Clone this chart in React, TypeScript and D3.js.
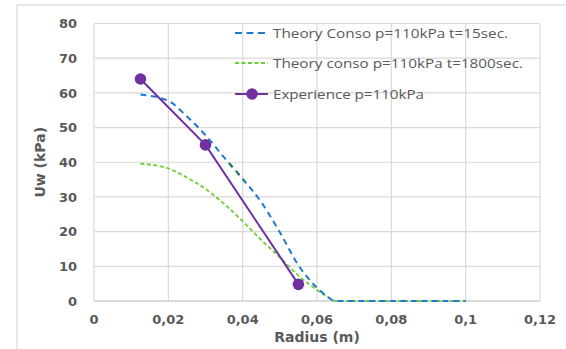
import React from "react";
import * as d3 from "d3";

const xTicks = [0, 0.02, 0.04, 0.06, 0.08, 0.1, 0.12];
const yTicks = [0, 10, 20, 30, 40, 50, 60, 70, 80];

const theory15X = [0.0125, 0.02, 0.025, 0.03, 0.035, 0.04, 0.045, 0.05, 0.055, 0.06, 0.0625, 0.065, 0.08, 0.1];
const theory15Y = [59.5, 57.7, 53.2, 47.8, 41.4, 35.2, 28.5, 19.8, 10.3, 3.8, 1.5, 0, 0, 0];

const theory1800X = [0.0125, 0.02, 0.025, 0.03, 0.035, 0.04, 0.045, 0.05, 0.055, 0.06, 0.0625, 0.065, 0.08, 0.1];
const theory1800Y = [39.6, 38.2, 35.6, 32.3, 28.0, 23.0, 17.6, 12.6, 7.3, 3.2, 1.4, 0, 0, 0];

const overlayX = [0.0355, 0.038, 0.0405];
const overlayY = [40.8, 37.7, 34.6];

const expX = [0.0125, 0.03, 0.055];
const expY = [64, 45, 4.8];

const legendLabels = [
  "Theory Conso p=110kPa t=15sec.",
  "Theory conso p=110kPa t=1800sec.",
  "Experience p=110kPa",
];

const BLUE = "#1f78d1";
const GREEN = "#6ccf3a";
const PURPLE = "#7030a0";
const DARKGREEN = "#2f7d32";
const TEXT = "#595959";
const GRID = "#d9d9d9";

export default function App() {
  const x = d3.scaleLinear().domain([0, 0.12]).range([94, 540]);
  const y = d3.scaleLinear().domain([0, 80]).range([301, 23.5]);

  const zip = (xs: number[], ys: number[]) => xs.map((v, i) => [v, ys[i]] as [number, number]);
  const smooth = d3
    .line<[number, number]>()
    .x((d) => x(d[0]))
    .y((d) => y(d[1]))
    .curve(d3.curveMonotoneX);
  const straight = d3
    .line<[number, number]>()
    .x((d) => x(d[0]))
    .y((d) => y(d[1]));

  const fmt = (v: number) => String(v).replace(".", ",");

  const legendY = [33, 63, 94];

  return (
    <svg
      width={566}
      height={349}
      style={{ position: "absolute", left: 0, top: 0, background: "#fff" }}
    >
      <rect x={17} y={5} width={600} height={400} fill="#fff" stroke={GRID} strokeWidth={1.2} />
      {/* gridlines */}
      {yTicks.map((t) => (
        <line key={"gy" + t} x1={x(0)} x2={x(0.12)} y1={y(t)} y2={y(t)} stroke={GRID} strokeWidth={1.2} />
      ))}
      {xTicks.map((t) => (
        <line key={"gx" + t} x1={x(t)} x2={x(t)} y1={y(0)} y2={y(80)} stroke={GRID} strokeWidth={1.2} />
      ))}
      <line x1={x(0)} x2={x(0.12)} y1={y(0)} y2={y(0)} stroke="#c8c8c8" strokeWidth={1.2} />
      {/* tick labels */}
      {yTicks.map((t) => (
        <text
          key={"ty" + t}
          x={77}
          y={y(t)}
          dy="0.36em"
          textAnchor="end"
          fontFamily="DejaVu Sans"
          fontWeight="bold"
          fontSize={13}
          fill={TEXT}
        >
          {t}
        </text>
      ))}
      {xTicks.map((t) => (
        <text
          key={"tx" + t}
          x={x(t)}
          y={324}
          textAnchor="middle"
          fontFamily="DejaVu Sans"
          fontWeight="bold"
          fontSize={13}
          fill={TEXT}
        >
          {fmt(t)}
        </text>
      ))}
      <text
        x={317}
        y={342}
        textAnchor="middle"
        fontFamily="DejaVu Sans"
        fontWeight="bold"
        fontSize={14}
        fill={TEXT}
      >
        Radius (m)
      </text>
      <text
        transform={`translate(45,${(y(0) + y(80)) / 2}) rotate(-90)`}
        textAnchor="middle"
        fontFamily="DejaVu Sans"
        fontWeight="bold"
        fontSize={14}
        fill={TEXT}
      >
        Uw (kPa)
      </text>
      {/* series */}
      <path d={smooth(zip(theory1800X, theory1800Y)) || ""} fill="none" stroke={GREEN} strokeWidth={1.8} strokeDasharray="4 2.5" />
      <path d={smooth(zip(theory15X, theory15Y)) || ""} fill="none" stroke={BLUE} strokeWidth={2} strokeDasharray="6 4.5" />
      <path d={smooth(zip(overlayX, overlayY)) || ""} fill="none" stroke={DARKGREEN} strokeWidth={2} strokeDasharray="4 6.5" strokeDashoffset={-6} />
      <path d={straight(zip(expX, expY)) || ""} fill="none" stroke={PURPLE} strokeWidth={2} />
      {expX.map((v, i) => (
        <circle key={"m" + i} cx={x(v)} cy={y(expY[i])} r={5.8} fill={PURPLE} />
      ))}
      {/* legend */}
      <line x1={235} x2={268} y1={legendY[0]} y2={legendY[0]} stroke={BLUE} strokeWidth={2} strokeDasharray="7 4.5" />
      <line x1={235} x2={268} y1={legendY[1]} y2={legendY[1]} stroke={GREEN} strokeWidth={1.8} strokeDasharray="4 2.5" />
      <line x1={235} x2={268} y1={legendY[2]} y2={legendY[2]} stroke={PURPLE} strokeWidth={2} />
      <circle cx={252} cy={legendY[2]} r={5.8} fill={PURPLE} />
      {legendLabels.map((l, i) => (
        <text
          key={"l" + i}
          x={273}
          y={legendY[i]}
          dy="0.36em"
          fontFamily="Open Sans"
          fontSize={13}
          fill={TEXT}
          textLength={[235, 250, 151][i]}
          lengthAdjust="spacingAndGlyphs"
        >
          {l}
        </text>
      ))}
    </svg>
  );
}
